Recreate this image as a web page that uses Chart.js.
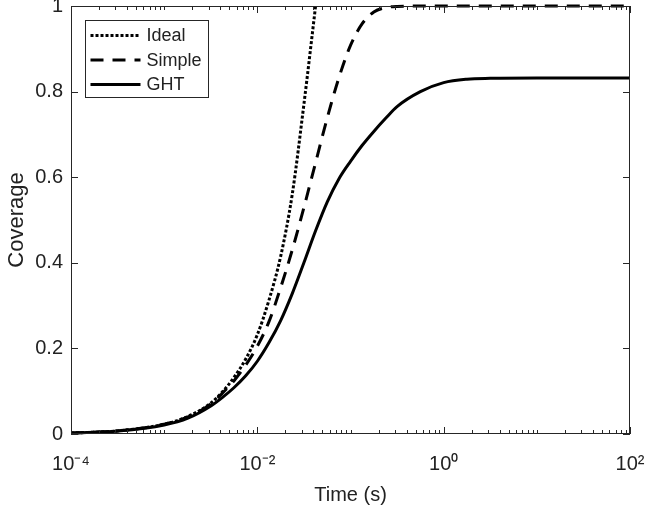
<!DOCTYPE html>
<html>
<head>
<meta charset="utf-8">
<script src="https://cdn.jsdelivr.net/npm/chart.js@4/dist/chart.umd.min.js"></script>
<style>
    body { margin: 0; background: #fff; }
    #wrap { width: 648px; height: 513px; }
</style>
</head>
<body>
<div id="wrap"><canvas id="coverage-chart"></canvas></div>
<script>
/*
    data
*/
const times = [1e-4, 3.2e-4, 1e-3, 1.8e-3, 3.2e-3, 4.2e-3, 5.6e-3, 7.5e-3, 0.01, 0.0133, 0.0178, 0.0237, 0.0316,
    0.0422, 0.0562, 0.075, 0.1, 0.133, 0.178, 0.237, 0.316, 0.562, 1, 1.78, 3.16, 10, 100];

const idealCoverage = [0.0023, 0.0073, 0.023, 0.041, 0.073, 0.098, 0.132, 0.175, 0.232, 0.312, 0.415, 0.56, 0.77,
    1.0, null, null, null, null, null, null, null, null, null, null, null, null, null];

const simpleCoverage = [0.0023, 0.0073, 0.023, 0.040, 0.071, 0.095, 0.124, 0.161, 0.205, 0.262, 0.342, 0.43, 0.529,
    0.634, 0.738, 0.832, 0.908, 0.958, 0.986, 0.996, 0.999, 1, 1, 1, 1, 1, 1];

const ghtCoverage = [0.0022, 0.007, 0.021, 0.037, 0.066, 0.085, 0.108, 0.136, 0.170, 0.213, 0.265, 0.328, 0.40,
    0.475, 0.542, 0.596, 0.637, 0.674, 0.707, 0.737, 0.765, 0.80, 0.821, 0.829, 0.831, 0.832, 0.832];

const seriesNames = ["Ideal", "Simple", "GHT"];

const xMajorTicks = [1e-4, 1e-2, 1, 1e2];
const xTickLabels = ["10\u207B\u2074", "10\u207B\u00B2", "10\u2070", "10\u00B2"];
const yTicks = [0, 0.2, 0.4, 0.6, 0.8, 1];

const axisColor = "#262626";
const fontFamily = "'Liberation Sans', Arial, sans-serif";

function toPoints(values) {
    return times.map((t, i) => ({ x: t, y: values[i] }));
}

/*
    box, inward ticks and legend like the original figure
*/
const axisBoxPlugin = {
    id: "axisBox",
    afterDatasetsDraw(chart) {
        const { ctx, chartArea: area, scales: { x, y } } = chart;
        ctx.save();
        ctx.strokeStyle = axisColor;
        ctx.lineWidth = 1;

        // inward ticks on x (bottom and top)
        ctx.beginPath();
        for (let e = -4; e <= 2; e++) {
            for (let m = 1; m <= 9; m++) {
                const v = m * Math.pow(10, e);
                if (v > 100) break;
                const px = Math.round(x.getPixelForValue(v)) + 0.5;
                const len = (m === 1 && xMajorTicks.includes(v)) ? 7 : 4;
                ctx.moveTo(px, area.bottom);
                ctx.lineTo(px, area.bottom - len);
                ctx.moveTo(px, area.top);
                ctx.lineTo(px, area.top + len);
            }
        }
        // inward ticks on y (left and right)
        yTicks.forEach(v => {
            const py = Math.round(y.getPixelForValue(v)) + 0.5;
            ctx.moveTo(area.left, py);
            ctx.lineTo(area.left + 7, py);
            ctx.moveTo(area.right, py);
            ctx.lineTo(area.right - 7, py);
        });
        ctx.stroke();

        ctx.strokeRect(area.left + 0.5, area.top + 0.5, area.right - area.left - 1, area.bottom - area.top - 1);

        // legend
        const boxLeft = area.left + 14.5;
        const boxTop = area.top + 14.5;
        ctx.fillStyle = "#fff";
        ctx.fillRect(boxLeft, boxTop, 123, 77);
        ctx.strokeRect(boxLeft, boxTop, 123, 77);

        ctx.font = `18px ${fontFamily}`;
        ctx.textBaseline = "middle";
        chart.data.datasets.forEach((ds, i) => {
            const rowY = boxTop + 15 + i * 24.5;
            ctx.save();
            ctx.strokeStyle = ds.borderColor;
            ctx.lineWidth = ds.borderWidth;
            ctx.setLineDash(ds.borderDash || []);
            ctx.beginPath();
            ctx.moveTo(boxLeft + 5, rowY);
            ctx.lineTo(boxLeft + 55, rowY);
            ctx.stroke();
            ctx.restore();
            ctx.fillStyle = "#222";
            ctx.fillText(ds.label, boxLeft + 61, rowY + 1);
        });
        ctx.restore();
    }
};

const ctx = document.getElementById("coverage-chart").getContext("2d");

const lineStyles = [[3, 2], [13, 9], []];
const seriesValues = [idealCoverage, simpleCoverage, ghtCoverage];

const coverageChart = new Chart(ctx, {
    type: "line",
    data: {
        datasets: seriesNames.map((name, i) => ({
            label: name,
            data: toPoints(seriesValues[i]),
            borderColor: "#000",
            borderWidth: 3,
            borderDash: lineStyles[i],
            pointRadius: 0,
            fill: false,
            spanGaps: false,
            cubicInterpolationMode: "monotone",
            clip: 4
        }))
    },
    options: {
        responsive: true,
        maintainAspectRatio: false,
        animation: false,
        layout: {
            padding: { top: 6, right: 18, bottom: 0, left: 0 }
        },
        plugins: {
            legend: { display: false },
            tooltip: { enabled: false }
        },
        scales: {
            x: {
                type: "logarithmic",
                min: 1e-4,
                max: 1e2,
                afterBuildTicks: scale => {
                    scale.ticks = xMajorTicks.map(v => ({ value: v }));
                },
                afterFit: scale => {
                    scale.height = 79;
                    scale.paddingLeft = 0;
                    scale.paddingRight = 0;
                },
                ticks: {
                    autoSkip: false,
                    maxRotation: 0,
                    padding: 18,
                    color: "#222",
                    font: { family: fontFamily, size: 20 },
                    callback: (value) => {
                        const idx = xMajorTicks.findIndex(v => Math.abs(Math.log10(v) - Math.log10(value)) < 1e-6);
                        return idx >= 0 ? xTickLabels[idx] : "";
                    }
                },
                grid: { drawOnChartArea: false, drawTicks: false },
                border: { display: false },
                title: {
                    display: true,
                    text: "Time (s)",
                    color: "#222",
                    font: { family: fontFamily, size: 20 },
                    padding: { top: 0, bottom: 6 }
                }
            },
            y: {
                min: 0,
                max: 1,
                afterBuildTicks: scale => {
                    scale.ticks = yTicks.map(v => ({ value: v }));
                },
                afterFit: scale => {
                    scale.width = 71;
                    scale.paddingTop = 0;
                    scale.paddingBottom = 0;
                },
                ticks: {
                    padding: 8,
                    color: "#222",
                    font: { family: fontFamily, size: 20 },
                    callback: value => String(value)
                },
                grid: { drawOnChartArea: false, drawTicks: false },
                border: { display: false },
                title: {
                    display: true,
                    text: "Coverage",
                    color: "#222",
                    font: { family: fontFamily, size: 22 },
                    padding: { top: 4, bottom: 0 }
                }
            }
        }
    },
    plugins: [axisBoxPlugin]
});
</script>
</body>
</html>
